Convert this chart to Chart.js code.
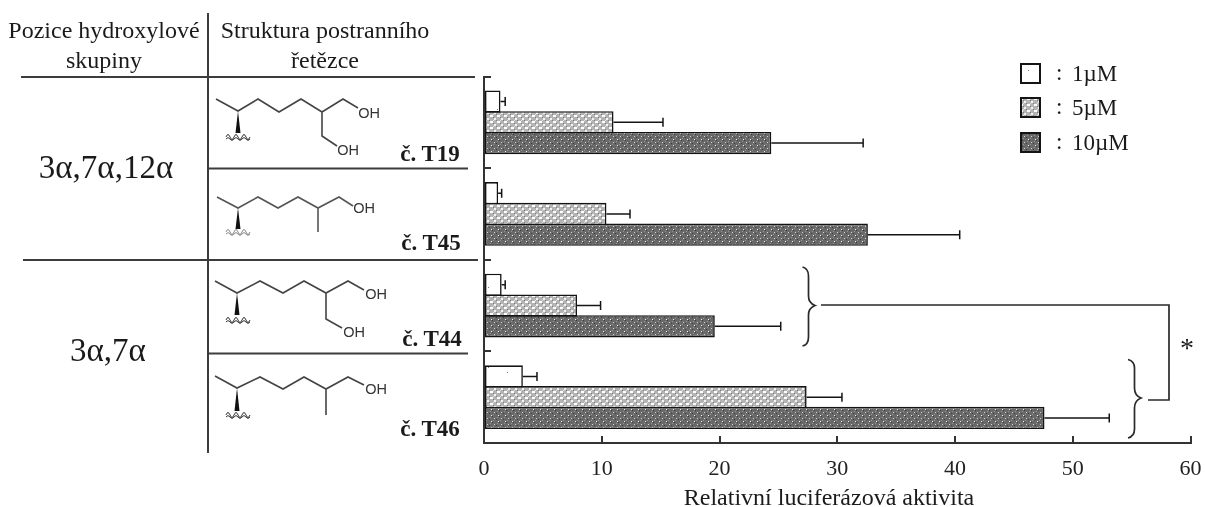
<!DOCTYPE html>
<html lang="cs">
<head>
<meta charset="UTF-8" />
<title>Relativní luciferázová aktivita</title>
<script src="https://cdn.jsdelivr.net/npm/chart.js"></script>
<style>
  html, body { margin: 0; padding: 0; background: #fff; }
  #wrap { position: relative; width: 1205px; height: 507px; overflow: hidden; }
  #chart { position: absolute; left: 0; top: 0; }
  #art { position: absolute; left: 0; top: 0; }
  .t { position: absolute; font-family: "Liberation Serif", serif; color: #1a1a1a; white-space: nowrap; line-height: 1; text-align: center; transform: translate(-50%, -50%); }
  .head { font-size: 24px; }
  .pos { font-size: 33px; }
  .id { font-size: 23px; font-weight: bold; }
  .oh { font-family: "Liberation Sans", sans-serif; font-size: 14.5px; color: #333; }
  .leg { font-size: 23px; text-align: left; transform: translate(0, -50%); }
  .swatch { position: absolute; }
</style>
</head>
<body>
<div id="wrap">
  <canvas id="chart" width="1205" height="507"></canvas>

  <!-- table lines, side chain drawings, braces -->
  <svg id="art" width="1205" height="507" fill="none" stroke="#3c3c3c" stroke-width="1.6">
    <g stroke-width="2">
      <path d="M208 13V453" />
      <path d="M21 77H475M208 168.5H468M23 260H478M208 353.5H468" />
    </g>
    <g stroke="#444">
      <path d="M216 99L238 111L258 99L279 112L301 99L322 112L343 99L358 108M322 112V136L337 146" />
      <path d="M217 197L238 208L258 197L278 208L298 197L318 208L339 197L353 206M318 208V232" stroke="#555" />
      <path d="M215 281L237 293L260 281L283 293L304 281L326 293L348 281L364 290M326 293V319L342 328" />
      <path d="M215 376L237 388L260 377L283 389L304 377L326 389L348 377L364 385M326 389V415" />
    </g>
    <g fill="#111" stroke="none">
      <path d="M238 111L235.5 133H240.5Z" />
      <path d="M238 208L235.5 229H240.5Z" />
      <path d="M237 293L234.5 315H239.5Z" />
      <path d="M237 388L234.5 411H239.5Z" />
    </g>
    <g stroke-width="1" stroke="#333">
      <path d="M226 137q2 -5 4 0t4 0t4 0t4 0t4 0t4 0M226 139q2 -3 4 0t4 0t4 0t4 0t4 0t4 0" />
      <path d="M226 232q2 -5 4 0t4 0t4 0t4 0t4 0t4 0M226 234q2 -3 4 0t4 0t4 0t4 0t4 0t4 0" stroke="#888" />
      <path d="M226 320q2 -5 4 0t4 0t4 0t4 0t4 0t4 0M226 322q2 -3 4 0t4 0t4 0t4 0t4 0t4 0" />
      <path d="M226 415q2 -5 4 0t4 0t4 0t4 0t4 0t4 0M226 417q2 -3 4 0t4 0t4 0t4 0t4 0t4 0" />
    </g>
    <g stroke="#2a2a2a" stroke-width="1.7">
      <path d="M802.5 267C807 268 808.5 271 808.5 276V296C808.5 301 811 304 815 305.5C811 307 808.5 310 808.5 315V337C808.5 342 807 345 802.5 346" />
      <path d="M1128 359.5C1132 360.5 1134.5 363 1134.5 368V388C1134.5 393 1137 396.5 1141 398C1137 399.5 1134.5 403 1134.5 408V429C1134.5 434 1132 437 1128 438" />
      <path d="M821 305H1169V400H1148" />
    </g>
  </svg>

  <div class="t head" style="left:104px;top:30px">Pozice hydroxylové</div>
  <div class="t head" style="left:104px;top:60px">skupiny</div>
  <div class="t head" style="left:325px;top:30px">Struktura postranního</div>
  <div class="t head" style="left:325px;top:60px">řetězce</div>
  <div class="t pos" style="left:106px;top:167px">3α,7α,12α</div>
  <div class="t pos" style="left:108px;top:350px">3α,7α</div>
  <div class="t id" style="left:430px;top:153px">č. T19</div>
  <div class="t id" style="left:431px;top:242px">č. T45</div>
  <div class="t id" style="left:432px;top:338px">č. T44</div>
  <div class="t id" style="left:430px;top:428px">č. T46</div>
  <div class="t oh" style="left:369px;top:113px">OH</div>
  <div class="t oh" style="left:348px;top:150px">OH</div>
  <div class="t oh" style="left:364px;top:208px">OH</div>
  <div class="t oh" style="left:376px;top:294px">OH</div>
  <div class="t oh" style="left:354px;top:332px">OH</div>
  <div class="t oh" style="left:376px;top:389px">OH</div>
  <div class="t" style="left:829px;top:497px;font-size:24px">Relativní luciferázová aktivita</div>
  <div class="t" style="left:1187px;top:348px;font-size:28px">*</div>

  <canvas class="swatch" id="sw0" width="21" height="21" style="left:1020px;top:63px"></canvas>
  <canvas class="swatch" id="sw1" width="21" height="21" style="left:1020px;top:97px"></canvas>
  <canvas class="swatch" id="sw2" width="21" height="21" style="left:1020px;top:132px"></canvas>
  <div class="t leg" style="left:1056px;top:72px">:</div>
  <div class="t leg" style="left:1056px;top:106px">:</div>
  <div class="t leg" style="left:1056px;top:141px">:</div>
  <div class="t leg" style="left:1072px;top:73px">1µM</div>
  <div class="t leg" style="left:1072px;top:107px">5µM</div>
  <div class="t leg" style="left:1072px;top:142px">10µM</div>
</div>

<script>
  const compounds = ["T19", "T45", "T44", "T46"];
  const concentrations = ["1µM", "5µM", "10µM"];
  const xTicks = [0, 10, 20, 30, 40, 50, 60];

  // bar values
  const values1uM = [1.4, 1.2, 1.5, 3.3];
  const values5uM = [11.0, 10.4, 7.9, 27.4];
  const values10uM = [24.4, 32.6, 19.6, 47.6];

  // error bar length (upper side only)
  const err1uM = [0.4, 0.3, 0.3, 1.2];
  const err5uM = [4.2, 2.0, 2.0, 3.0];
  const err10uM = [7.8, 7.8, 5.6, 5.5];

  const errors = [err1uM, err5uM, err10uM];
  const ink = "#141414";

  function makeTile(w, h, base, dots) {
    const c = document.createElement("canvas");
    c.width = w;
    c.height = h;
    const g = c.getContext("2d");
    g.fillStyle = base;
    g.fillRect(0, 0, w, h);
    dots.forEach((d) => {
      g.fillStyle = d[2];
      g.fillRect(d[0], d[1], d[3] || 1, d[4] || 1);
    });
    return c;
  }

  const ctx = document.getElementById("chart").getContext("2d");

  const tiles = [
    makeTile(40, 40, "#ffffff", [[8, 7, "#777", 1, 1], [27, 12, "#777", 1, 1], [17, 29, "#777", 1, 1]]),
    makeTile(7, 6, "#b4b4b4", [[0, 1, "#ffffff", 3, 2], [4, 4, "#f4f4f4", 2, 2], [3, 0, "#e2e2e2", 1, 1], [3, 3, "#7c7c7c", 1, 1], [6, 0, "#7c7c7c", 1, 1]]),
    makeTile(7, 6, "#696969", [[1, 1, "#f2f2f2", 1, 1], [4, 4, "#d4d4d4", 1, 1], [0, 3, "#949494", 1, 1], [3, 0, "#949494", 1, 1], [6, 5, "#3c3c3c", 1, 1], [2, 2, "#3c3c3c", 1, 1]]),
  ];
  const fills = tiles.map((c) => ctx.createPattern(c, "repeat"));

  // legend swatches use the same fills as the bars
  fills.forEach((f, i) => {
    const s = document.getElementById("sw" + i).getContext("2d");
    s.fillStyle = s.createPattern(tiles[i], "repeat");
    s.fillRect(0, 0, 21, 21);
    s.strokeStyle = ink;
    s.lineWidth = 2;
    s.strokeRect(1, 1, 19, 19);
  });

  // draws the upper error bar of each bar, through the x scale
  const errorBars = {
    id: "errorBars",
    afterDatasetsDraw(chart) {
      const x = chart.scales.x;
      const g = chart.ctx;
      g.save();
      g.strokeStyle = ink;
      g.lineWidth = 1.5;
      chart.data.datasets.forEach((ds, i) => {
        chart.getDatasetMeta(i).data.forEach((bar, j) => {
          const end = x.getPixelForValue(ds.data[j] + errors[i][j]);
          g.beginPath();
          g.moveTo(bar.x, bar.y);
          g.lineTo(end, bar.y);
          g.moveTo(end, bar.y - 4.5);
          g.lineTo(end, bar.y + 4.5);
          g.stroke();
        });
      });
      g.restore();
    },
  };

  const seriesValues = [values1uM, values5uM, values10uM];

  new Chart(ctx, {
    type: "bar",
    data: {
      labels: compounds,
      datasets: concentrations.map((label, i) => ({
        label,
        data: seriesValues[i],
        backgroundColor: fills[i],
        borderColor: ink,
        borderWidth: 1.6,
        borderSkipped: false,
        categoryPercentage: 0.68,
        barPercentage: 1.07,
      })),
    },
    options: {
      indexAxis: "y",
      responsive: false,
      animation: false,
      layout: { padding: { left: 484, right: 14.5, top: 76.5, bottom: 0 } },
      plugins: { legend: { display: false }, tooltip: { enabled: false } },
      scales: {
        x: {
          type: "linear",
          min: 0,
          max: 60,
          afterBuildTicks(scale) {
            scale.ticks = xTicks.map((value) => ({ value }));
          },
          afterFit(scale) {
            scale.height = 64;
            scale.paddingLeft = 0;
            scale.paddingRight = 0;
          },
          border: { color: "#333", width: 2 },
          grid: { drawOnChartArea: false, color: "#333", lineWidth: 2, tickLength: -7 },
          ticks: {
            color: "#222",
            padding: 20,
            maxRotation: 0,
            font: { family: "'Liberation Serif'", size: 22 },
          },
        },
        y: {
          type: "category",
          offset: true,
          afterFit(scale) {
            scale.width = 0;
          },
          border: { color: "#333", width: 2 },
          grid: { offset: true, drawOnChartArea: false, color: "#333", lineWidth: 2, tickLength: -7 },
          ticks: { display: false },
        },
      },
    },
    plugins: [errorBars],
  });
</script>
</body>
</html>
